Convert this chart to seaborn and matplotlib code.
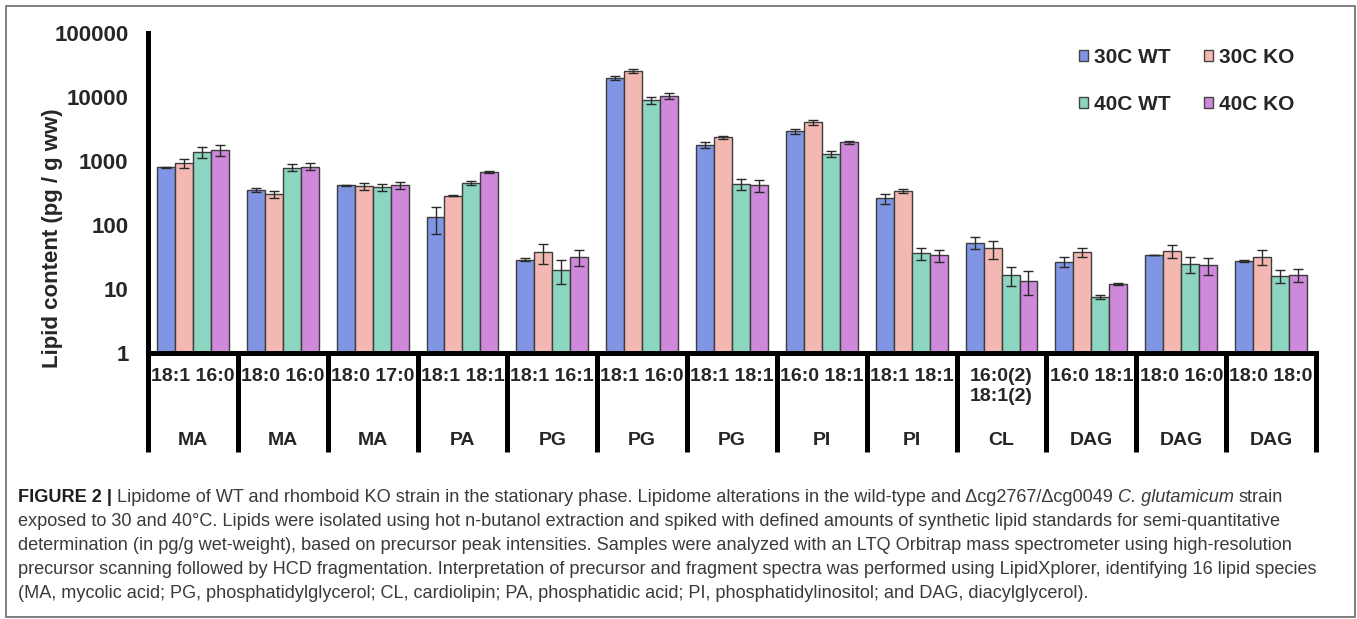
# Lipidome of WT and rhomboid KO strain - log bar chart with caption

import numpy as np
import pandas as pd
import matplotlib
matplotlib.use("Agg")
import matplotlib.pyplot as plt
import matplotlib.transforms as mtransforms
from matplotlib.patches import Patch, Rectangle
import seaborn as sns

# -----------------------------
# DATA
# -----------------------------

species = ["18:1 16:0", "18:0 16:0", "18:0 17:0", "18:1 18:1", "18:1 16:1",
           "18:1 16:0", "18:1 18:1", "16:0 18:1", "18:1 18:1",
           "16:0(2)\n18:1(2)", "16:0 18:1", "18:0 16:0", "18:0 18:0"]
classes = ["MA", "MA", "MA", "PA", "PG", "PG", "PG", "PI", "PI",
           "CL", "DAG", "DAG", "DAG"]
conditions = ["30C WT", "30C KO", "40C WT", "40C KO"]

wt30 = [800, 350, 420, 133, 28.5, 19800, 1780, 2900, 260, 53, 26.7, 34, 27.7]
ko30 = [930, 305, 405, 285, 38, 25700, 2350, 4000, 345, 43, 38, 39, 32]
wt40 = [1380, 790, 395, 455, 20, 8900, 440, 1300, 36, 16.7, 7.6, 25, 16]
ko40 = [1480, 820, 420, 670, 31.5, 10400, 420, 1960, 33.5, 13.5, 11.8, 23.5, 16.7]

wt30_err = [20, 25, 6, 60, 1.5, 1500, 200, 300, 45, 11, 5, 0.4, 1]
ko30_err = [140, 40, 50, 5, 13, 2000, 150, 300, 25, 14, 6, 9, 8]
wt40_err = [270, 100, 50, 40, 8, 1200, 90, 150, 8, 5.5, 0.6, 7, 3.8]
ko40_err = [300, 100, 50, 30, 9, 1000, 90, 100, 7, 5.5, 0.4, 7, 3.8]

colors = ["#8096E4", "#F4B8B2", "#8CD5C0", "#CE89DB"]

caption = [
    [("FIGURE 2 |", "bold", "normal"),
     ("Lipidome of WT and rhomboid KO strain in the stationary phase. Lipidome alterations in the wild-type and \u0394cg2767/\u0394cg0049", "normal", "normal"),
     ("C. glutamicum", "normal", "italic"),
     ("strain", "normal", "normal")],
    [("exposed to 30 and 40\u00b0C. Lipids were isolated using hot n-butanol extraction and spiked with defined amounts of synthetic lipid standards for semi-quantitative", "normal", "normal")],
    [("determination (in pg/g wet-weight), based on precursor peak intensities. Samples were analyzed with an LTQ Orbitrap mass spectrometer using high-resolution", "normal", "normal")],
    [("precursor scanning followed by HCD fragmentation. Interpretation of precursor and fragment spectra was performed using LipidXplorer, identifying 16 lipid species", "normal", "normal")],
    [("(MA, mycolic acid; PG, phosphatidylglycerol; CL, cardiolipin; PA, phosphatidic acid; PI, phosphatidylinositol; and DAG, diacylglycerol).", "normal", "normal")],
]
# right end of the full-width caption lines in the reference (pixels)
caption_ends = [1327, 1303, 1305, 1325]

# -----------------------------
# LONG TABLE FOR SEABORN
# -----------------------------

slots = [c + " " + s for c, s in zip(classes, species)]
values = [wt30, ko30, wt40, ko40]
errors = [wt30_err, ko30_err, wt40_err, ko40_err]

rows = []
for cond, vals in zip(conditions, values):
    for slot, v in zip(slots, vals):
        rows.append({"slot": slot, "condition": cond, "value": v})
df = pd.DataFrame(rows)

# -----------------------------
# FIGURE
# -----------------------------

sns.set_style("white")
plt.rcParams["font.family"] = ["Liberation Sans", "DejaVu Sans"]

W, H = 1357, 619
fig = plt.figure(figsize=(W / 100, H / 100), dpi=100)
ax = fig.add_axes([148 / W, 1 - 353 / H, (1316 - 148) / W, 320 / H])

sns.barplot(data=df, x="slot", y="value", hue="condition", order=slots,
            hue_order=conditions, palette=colors, saturation=1,
            errorbar=None, width=0.8, edgecolor="#3c3c3c", linewidth=1,
            legend=False, ax=ax)

# error bars on top of each bar
for cont, err in zip(ax.containers, errors):
    xs = [b.get_x() + b.get_width() / 2 for b in cont]
    ys = [b.get_height() for b in cont]
    ax.errorbar(xs, ys, yerr=err, fmt="none", ecolor="#2a2a2a",
                elinewidth=1, capsize=3.5, capthick=1, zorder=5)

ax.set_yscale("log")
ax.set_ylim(1, 100000)
ax.set_xlim(-0.5, len(slots) - 0.5)
ax.set_yticks([1, 10, 100, 1000, 10000, 100000])
ax.set_yticklabels(["1", "10", "100", "1000", "10000", "100000"],
                   fontsize=16, fontweight="bold")
ax.yaxis.set_minor_locator(matplotlib.ticker.NullLocator())
ax.tick_params(axis="y", length=5, width=3.5, pad=9, color="black")

ax.set_xticks(range(len(slots)))
ax.set_xticklabels(species, fontsize=14, fontweight="bold")
ax.tick_params(axis="x", length=0, pad=11)
ax.set_xlabel("")
ax.set_ylabel("Lipid content (pg / g ww)", fontsize=16, fontweight="bold")
ax.yaxis.set_label_coords(-0.073, 0.36)

sns.despine(ax=ax)
for side in ["left", "bottom"]:
    ax.spines[side].set_linewidth(3.6)
    ax.spines[side].set_color("black")

# category separators and class labels under the axis
trans = mtransforms.blended_transform_factory(ax.transData, ax.transAxes)
ax.vlines(np.arange(-0.5, len(slots)), -0.31, 0, transform=trans,
          colors="black", linewidth=3.6, clip_on=False)
for i, c in enumerate(classes):
    ax.text(i, -0.272, c, transform=trans, ha="center", va="center",
            fontsize=14, fontweight="bold")

# legend: rows are 30C / 40C, so give it column-major order
handles = [Patch(facecolor=c, edgecolor="#444444", linewidth=1) for c in colors]
order = [0, 2, 1, 3]
ax.legend([handles[i] for i in order], [conditions[i] for i in order],
          ncol=2, frameon=False, prop={"weight": "bold", "size": 15},
          handlelength=0.42, handleheight=0.42, handletextpad=0.3,
          columnspacing=1.6, labelspacing=1.35, borderpad=0,
          borderaxespad=0, loc="upper left",
          bbox_to_anchor=(1079 / W, 1 - 48 / H), bbox_transform=fig.transFigure)

# -----------------------------
# CAPTION
# -----------------------------

renderer = fig.canvas.get_renderer()
px = mtransforms.IdentityTransform()


def put_line(pieces, x, y, size, draw=True):
    # place text pieces one after another, return total width in pixels
    probe = fig.text(0, 0, "a a", fontsize=size, transform=px)
    probe2 = fig.text(0, 0, "aa", fontsize=size, transform=px)
    space = (probe.get_window_extent(renderer).width
             - probe2.get_window_extent(renderer).width)
    probe.remove()
    probe2.remove()
    start = x
    for txt, weight, style in pieces:
        col = "#1e1e1e" if weight == "bold" else "#3a3a3a"
        t = fig.text(x, y, txt, fontsize=size, fontweight=weight,
                     fontstyle=style, color=col, ha="left",
                     va="baseline", transform=px)
        x += t.get_window_extent(renderer).width + space
        if not draw:
            t.remove()
    return x - space - start


base = 10
ratios = [(end - 18) / put_line(p, 0, 0, base, draw=False)
          for p, end in zip(caption, caption_ends)]
size = base * min(ratios)
for k, pieces in enumerate(caption):
    put_line(pieces, 18, H - (502 + 24 * k), size)

# outer frame
fig.patches.append(Rectangle((6 / W, 2 / H), (1355 - 6) / W, (617 - 6) / H,
                             transform=fig.transFigure, fill=False,
                             edgecolor="#6a6a6a", linewidth=1.2))

fig.savefig("out.png", dpi=100)
